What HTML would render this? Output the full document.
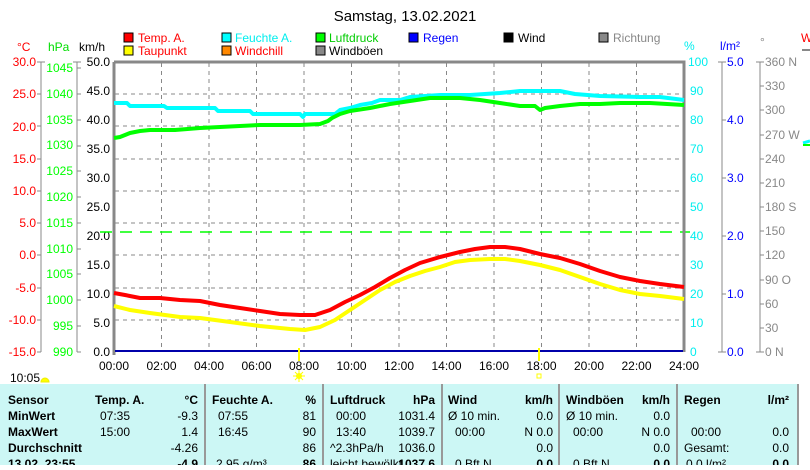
<!DOCTYPE html>
<html><head><meta charset="utf-8"><style>
body{margin:0;background:#fff;width:810px;height:465px;overflow:hidden;font-family:"Liberation Sans",sans-serif}
svg text{font-family:"Liberation Sans",sans-serif;font-size:12px}
</style></head><body>
<svg width="810" height="465" xmlns="http://www.w3.org/2000/svg">
<text x="405" y="21" text-anchor="middle" style="font-size:15px">Samstag, 13.02.2021</text>
<!-- legend -->
<g stroke="#000" stroke-width="1">
<rect x="124" y="33" width="9" height="9" fill="#f00"/><rect x="124" y="46" width="9" height="9" fill="#ff0"/>
<rect x="222" y="33" width="9" height="9" fill="#0ff"/><rect x="222" y="46" width="9" height="9" fill="#f80"/>
<rect x="316" y="33" width="9" height="9" fill="#0f0"/><rect x="316" y="46" width="9" height="9" fill="#888"/>
<rect x="409" y="33" width="9" height="9" fill="#00f"/>
<rect x="504" y="33" width="9" height="9" fill="#000"/>
<rect x="599" y="33" width="9" height="9" fill="#888"/>
</g>
<text x="138" y="42" fill="#f00">Temp. A.</text><text x="138" y="55" fill="#f00">Taupunkt</text>
<text x="235" y="42" fill="#0ee">Feuchte A.</text><text x="235" y="55" fill="#f00">Windchill</text>
<text x="329" y="42" fill="#0c0">Luftdruck</text><text x="329" y="55">Windböen</text>
<text x="423" y="42" fill="#00f">Regen</text>
<text x="518" y="42">Wind</text>
<text x="613" y="42" fill="#888">Richtung</text>
<text x="17" y="51" fill="#f00">°C</text><text x="48" y="51" fill="#0d0">hPa</text><text x="79" y="51">km/h</text>
<text x="684" y="50" fill="#0ee">%</text><text x="720" y="50" fill="#00f">l/m²</text><text x="760" y="46" fill="#888">°</text>
<text x="801" y="42" fill="#f00">W</text>
<line x1="802" y1="50" x2="810" y2="50" stroke="#888" stroke-width="2"/>
<line x1="803" y1="143" x2="810" y2="141" stroke="#0ff" stroke-width="3"/>
<line x1="803" y1="145" x2="810" y2="145" stroke="#0f0" stroke-width="2"/>
<!-- axes lines -->
<g stroke="#888" stroke-width="1">
<line x1="41" y1="62" x2="41" y2="352"/><line x1="77" y1="62" x2="77" y2="352"/>
<line x1="722" y1="62" x2="722" y2="352"/><line x1="760" y1="62" x2="760" y2="352"/>
</g>
<g fill="#f00" text-anchor="end">
<text x="36" y="66">30.0</text><text x="36" y="98">25.0</text><text x="36" y="131">20.0</text><text x="36" y="163">15.0</text><text x="36" y="195">10.0</text><text x="36" y="227">5.0</text><text x="36" y="259">0.0</text><text x="36" y="292">-5.0</text><text x="36" y="324">-10.0</text><text x="36" y="356">-15.0</text>
</g>
<g stroke="#888"><line x1="37" y1="62" x2="45" y2="62"/><line x1="37" y1="94" x2="41" y2="94"/><line x1="37" y1="126" x2="41" y2="126"/><line x1="37" y1="159" x2="41" y2="159"/><line x1="37" y1="191" x2="41" y2="191"/><line x1="37" y1="223" x2="41" y2="223"/><line x1="37" y1="255" x2="41" y2="255"/><line x1="37" y1="288" x2="41" y2="288"/><line x1="37" y1="320" x2="41" y2="320"/><line x1="37" y1="352" x2="41" y2="352"/></g>
<g fill="#0f0" text-anchor="end">
<text x="73" y="72">1045</text><text x="73" y="98">1040</text><text x="73" y="124">1035</text><text x="73" y="149">1030</text><text x="73" y="175">1025</text><text x="73" y="201">1020</text><text x="73" y="227">1015</text><text x="73" y="253">1010</text><text x="73" y="278">1005</text><text x="73" y="304">1000</text><text x="73" y="330">995</text><text x="73" y="356">990</text>
</g>
<g stroke="#888"><line x1="73" y1="62" x2="81" y2="62"/><line x1="77" y1="68" x2="81" y2="68"/><line x1="77" y1="94" x2="81" y2="94"/><line x1="77" y1="120" x2="81" y2="120"/><line x1="77" y1="146" x2="81" y2="146"/><line x1="77" y1="171" x2="81" y2="171"/><line x1="77" y1="197" x2="81" y2="197"/><line x1="77" y1="223" x2="81" y2="223"/><line x1="77" y1="249" x2="81" y2="249"/><line x1="77" y1="274" x2="81" y2="274"/><line x1="77" y1="300" x2="81" y2="300"/><line x1="77" y1="326" x2="81" y2="326"/><line x1="77" y1="352" x2="81" y2="352"/></g>
<g text-anchor="end">
<text x="110" y="66">50.0</text><text x="110" y="95">45.0</text><text x="110" y="124">40.0</text><text x="110" y="153">35.0</text><text x="110" y="182">30.0</text><text x="110" y="211">25.0</text><text x="110" y="240">20.0</text><text x="110" y="269">15.0</text><text x="110" y="298">10.0</text><text x="110" y="327">5.0</text><text x="110" y="356">0.0</text>
</g>
<!-- right axes -->
<g fill="#0ee">
<text x="688" y="66">100</text><text x="690" y="95">90</text><text x="690" y="124">80</text><text x="690" y="153">70</text><text x="690" y="182">60</text><text x="690" y="211">50</text><text x="690" y="240">40</text><text x="690" y="269">30</text><text x="690" y="298">20</text><text x="690" y="327">10</text><text x="690" y="356">0</text>
</g>
<g fill="#00f"><text x="727" y="66">5.0</text><text x="727" y="124">4.0</text><text x="727" y="182">3.0</text><text x="727" y="240">2.0</text><text x="727" y="298">1.0</text><text x="727" y="356">0.0</text></g>
<g stroke="#888"><line x1="718" y1="62" x2="726" y2="62"/><line x1="722" y1="120" x2="726" y2="120"/><line x1="722" y1="178" x2="726" y2="178"/><line x1="722" y1="236" x2="726" y2="236"/><line x1="722" y1="294" x2="726" y2="294"/><line x1="718" y1="352" x2="726" y2="352"/>
<line x1="756" y1="62" x2="764" y2="62"/><line x1="760" y1="86" x2="764" y2="86"/><line x1="760" y1="110" x2="764" y2="110"/><line x1="760" y1="135" x2="764" y2="135"/><line x1="760" y1="159" x2="764" y2="159"/><line x1="760" y1="183" x2="764" y2="183"/><line x1="760" y1="207" x2="764" y2="207"/><line x1="760" y1="231" x2="764" y2="231"/><line x1="760" y1="255" x2="764" y2="255"/><line x1="760" y1="280" x2="764" y2="280"/><line x1="760" y1="304" x2="764" y2="304"/><line x1="760" y1="328" x2="764" y2="328"/><line x1="756" y1="352" x2="764" y2="352"/></g>
<g fill="#888"><text x="765" y="66">360 N</text><text x="765" y="90">330</text><text x="765" y="114">300</text><text x="765" y="139">270 W</text><text x="765" y="163">240</text><text x="765" y="187">210</text><text x="765" y="211">180 S</text><text x="765" y="235">150</text><text x="765" y="259">120</text><text x="765" y="284">90 O</text><text x="765" y="308">60</text><text x="765" y="332">30</text><text x="765" y="356">0 N</text></g>
<!-- grid -->
<g stroke="#888" stroke-dasharray="4,4" stroke-width="1">
<line x1="161.5" y1="63" x2="161.5" y2="351"/><line x1="209" y1="63" x2="209" y2="351"/><line x1="256.5" y1="63" x2="256.5" y2="351"/><line x1="304" y1="63" x2="304" y2="351"/><line x1="351.5" y1="63" x2="351.5" y2="351"/><line x1="399" y1="63" x2="399" y2="351"/><line x1="446.5" y1="63" x2="446.5" y2="351"/><line x1="494" y1="63" x2="494" y2="351"/><line x1="541.5" y1="63" x2="541.5" y2="351"/><line x1="589" y1="63" x2="589" y2="351"/><line x1="636.5" y1="63" x2="636.5" y2="351"/>
<line x1="115" y1="94" x2="683" y2="94"/><line x1="115" y1="126" x2="683" y2="126"/><line x1="115" y1="159" x2="683" y2="159"/><line x1="115" y1="191" x2="683" y2="191"/><line x1="115" y1="223" x2="683" y2="223"/><line x1="115" y1="255" x2="683" y2="255"/><line x1="115" y1="288" x2="683" y2="288"/><line x1="115" y1="320" x2="683" y2="320"/>
</g>
<line x1="100" y1="232" x2="690" y2="232" stroke="#0f0" stroke-dasharray="12,8" stroke-width="1.5"/>
<path d="M114,62 H684 V352" fill="none" stroke="#888" stroke-width="3"/>
<line x1="114" y1="62" x2="114" y2="355" stroke="#888" stroke-width="3"/>
<line x1="115" y1="351" x2="683" y2="351" stroke="#00a" stroke-width="2"/>
<!-- series -->
<g fill="none" stroke-width="4" stroke-linejoin="round">
<polyline stroke="#0ff" points="114,103 127,103 130,106 164,106 167,108 215,108 218,111 250,111 253,114 300,114 303,117 305,114 335,114 340,110 350,108 360,105 372,103 380,100 400,100 410,97 440,95 470,95 500,93 520,91 560,91 575,94 600,96 640,97 660,97 684,100"/>
<polyline stroke="#0f0" points="114,138 120,137 130,133 140,131 150,130 175,130 200,128 220,127 240,126 260,125 300,125 320,124 328,121 332,118 340,114 350,111 370,108 390,104 410,101 430,98 460,98 480,100 500,103 520,106 535,106 540,110 545,108 560,106 580,104 600,104 620,103 650,103 684,105"/>
<polyline stroke="#f00" points="114,293 125,295 140,298 160,298 180,300 200,301 220,305 240,308 260,311 280,314 300,315 315,315 330,310 345,302 360,295 375,287 390,278 405,270 420,263 440,257 460,252 475,249 490,247 505,247 520,249 540,254 560,258 580,264 600,271 620,277 640,281 660,284 684,287"/>
<polyline stroke="#ff0" points="114,306 130,310 150,313 180,317 200,318 230,322 260,326 290,329 305,330 320,327 335,320 350,310 365,300 380,290 395,282 410,276 425,271 440,267 455,262 470,260 490,259 505,259 520,261 540,265 560,270 580,277 600,284 620,290 640,294 660,296 684,299"/>
</g>
<line x1="299" y1="348" x2="299" y2="361" stroke="#ff0" stroke-width="2"/>
<line x1="539" y1="348" x2="539" y2="361" stroke="#ff0" stroke-width="2"/>
<circle cx="299" cy="376" r="3" fill="#ff0"/><g stroke="#ff0" stroke-width="1"><line x1="293" y1="376" x2="305" y2="376"/><line x1="299" y1="370" x2="299" y2="382"/><line x1="295" y1="372" x2="303" y2="380"/><line x1="303" y1="372" x2="295" y2="380"/></g>
<rect x="537" y="374" width="4" height="4" fill="none" stroke="#ff0"/>
<g text-anchor="middle">
<text x="114" y="370">00:00</text><text x="161.5" y="370">02:00</text><text x="209" y="370">04:00</text><text x="256.5" y="370">06:00</text><text x="304" y="370">08:00</text><text x="351.5" y="370">10:00</text><text x="399" y="370">12:00</text><text x="446.5" y="370">14:00</text><text x="494" y="370">16:00</text><text x="541.5" y="370">18:00</text><text x="589" y="370">20:00</text><text x="636.5" y="370">22:00</text><text x="684" y="370">24:00</text>
</g>
<text x="10" y="382">10:05</text>
<path d="M41,382 a4,4 0 0,1 8,0 z" fill="#ff0" stroke="#ee0"/>
<!-- table -->
<rect x="0" y="384" width="797" height="81" fill="#ccf7f5"/>
<g stroke="#999" stroke-width="2"><line x1="205" y1="384" x2="205" y2="465"/><line x1="323" y1="384" x2="323" y2="465"/><line x1="442" y1="384" x2="442" y2="465"/><line x1="559" y1="384" x2="559" y2="465"/><line x1="677" y1="384" x2="677" y2="465"/><line x1="798" y1="384" x2="798" y2="465"/><line x1="88" y1="384" x2="88" y2="465"/></g>
<line x1="88" y1="384" x2="88" y2="465" stroke="#ccf7f5" stroke-width="2"/>
<g font-weight="bold">
<text x="8" y="404" font-weight="bold">Sensor</text><text x="8" y="420" font-weight="bold">MinWert</text><text x="8" y="436" font-weight="bold">MaxWert</text><text x="8" y="452" font-weight="bold">Durchschnitt</text><text x="8" y="468" font-weight="bold">13.02. 23:55</text>
<text x="95" y="404" font-weight="bold">Temp. A.</text><text x="198" y="404" text-anchor="end" font-weight="bold">°C</text>
<text x="212" y="404" font-weight="bold">Feuchte A.</text><text x="316" y="404" text-anchor="end" font-weight="bold">%</text>
<text x="330" y="404" font-weight="bold">Luftdruck</text><text x="435" y="404" text-anchor="end" font-weight="bold">hPa</text>
<text x="448" y="404" font-weight="bold">Wind</text><text x="553" y="404" text-anchor="end" font-weight="bold">km/h</text>
<text x="566" y="404" font-weight="bold">Windböen</text><text x="670" y="404" text-anchor="end" font-weight="bold">km/h</text>
<text x="684" y="404" font-weight="bold">Regen</text><text x="789" y="404" text-anchor="end" font-weight="bold">l/m²</text>
</g>
<text x="100" y="420">07:35</text><text x="198" y="420" text-anchor="end">-9.3</text>
<text x="100" y="436">15:00</text><text x="198" y="436" text-anchor="end">1.4</text>
<text x="198" y="452" text-anchor="end">-4.26</text><text x="198" y="468" text-anchor="end" font-weight="bold">-4.9</text>
<text x="218" y="420">07:55</text><text x="316" y="420" text-anchor="end">81</text>
<text x="218" y="436">16:45</text><text x="316" y="436" text-anchor="end">90</text>
<text x="316" y="452" text-anchor="end">86</text><text x="216" y="468">2.95 g/m³</text><text x="316" y="468" text-anchor="end" font-weight="bold">86</text>
<text x="336" y="420">00:00</text><text x="435" y="420" text-anchor="end">1031.4</text>
<text x="336" y="436">13:40</text><text x="435" y="436" text-anchor="end">1039.7</text>
<text x="330" y="452">^2.3hPa/h</text><text x="435" y="452" text-anchor="end">1036.0</text>
<text x="330" y="468">leicht bewölkt</text><text x="435" y="468" text-anchor="end" font-weight="bold">1037.6</text>
<text x="448" y="420">Ø 10 min.</text><text x="553" y="420" text-anchor="end">0.0</text>
<text x="455" y="436">00:00</text><text x="553" y="436" text-anchor="end">N 0.0</text>
<text x="553" y="452" text-anchor="end">0.0</text><text x="455" y="468">0 Bft N</text><text x="553" y="468" text-anchor="end" font-weight="bold">0.0</text>
<text x="566" y="420">Ø 10 min.</text><text x="670" y="420" text-anchor="end">0.0</text>
<text x="573" y="436">00:00</text><text x="670" y="436" text-anchor="end">N 0.0</text>
<text x="670" y="452" text-anchor="end">0.0</text><text x="573" y="468">0 Bft N</text><text x="670" y="468" text-anchor="end" font-weight="bold">0.0</text>
<text x="691" y="436">00:00</text><text x="789" y="436" text-anchor="end">0.0</text>
<text x="684" y="452">Gesamt:</text><text x="789" y="452" text-anchor="end">0.0</text>
<text x="686" y="468">0.0 l/m²</text><text x="789" y="468" text-anchor="end" font-weight="bold">0.0</text>
</svg>
</body></html>
